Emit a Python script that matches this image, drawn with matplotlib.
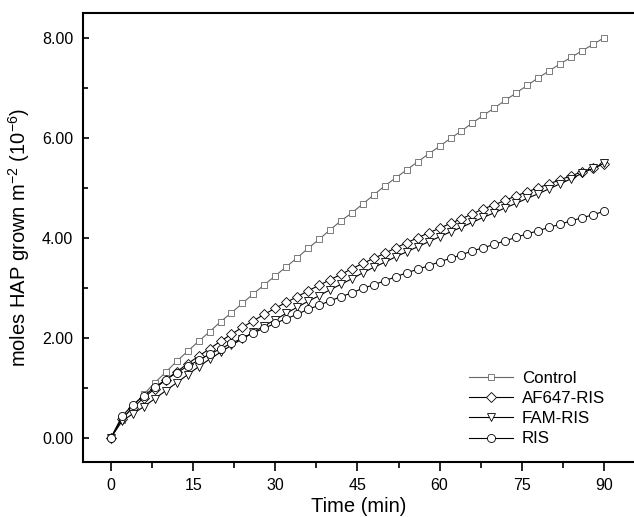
import matplotlib
matplotlib.use("Agg")
import matplotlib.pyplot as plt
from matplotlib.ticker import MultipleLocator, FormatStrFormatter
import numpy as np

plt.rcParams.update({
    "font.family": ["Liberation Sans", "DejaVu Sans"],
    "mathtext.fontset": "custom",
    "mathtext.rm": "Liberation Sans",
    "mathtext.it": "Liberation Sans:italic",
    "mathtext.default": "regular",
})

# time points (min), one sample every 2 min
time = list(range(0, 92, 2))

control = [0.00, 0.36, 0.63, 0.87, 1.10, 1.31, 1.53, 1.73, 1.93, 2.12, 2.32,
           2.50, 2.69, 2.88, 3.06, 3.24, 3.42, 3.60, 3.79, 3.97, 4.16, 4.34,
           4.50, 4.68, 4.86, 5.04, 5.20, 5.36, 5.52, 5.68, 5.83, 5.99, 6.14,
           6.30, 6.45, 6.60, 6.75, 6.90, 7.05, 7.20, 7.34, 7.48, 7.61, 7.74,
           7.87, 8.00]

af647_ris = [0.00, 0.38, 0.60, 0.80, 0.98, 1.16, 1.32, 1.48, 1.63, 1.78, 1.93,
             2.07, 2.21, 2.34, 2.47, 2.59, 2.71, 2.82, 2.94, 3.05, 3.16, 3.27,
             3.38, 3.49, 3.59, 3.69, 3.80, 3.90, 4.00, 4.10, 4.19, 4.29, 4.38,
             4.48, 4.58, 4.66, 4.75, 4.84, 4.92, 5.00, 5.08, 5.16, 5.24, 5.32,
             5.40, 5.47]

fam_ris = [0.00, 0.33, 0.48, 0.62, 0.78, 0.94, 1.10, 1.26, 1.42, 1.57, 1.71,
           1.85, 1.98, 2.11, 2.24, 2.36, 2.49, 2.61, 2.73, 2.84, 2.96, 3.07,
           3.18, 3.30, 3.41, 3.51, 3.62, 3.72, 3.82, 3.92, 4.02, 4.12, 4.21,
           4.31, 4.41, 4.50, 4.60, 4.69, 4.79, 4.88, 4.98, 5.08, 5.18, 5.29,
           5.39, 5.49]

ris = [0.00, 0.43, 0.66, 0.84, 1.01, 1.16, 1.30, 1.43, 1.55, 1.67, 1.78,
       1.89, 1.99, 2.10, 2.19, 2.29, 2.38, 2.47, 2.57, 2.65, 2.74, 2.82,
       2.90, 2.99, 3.06, 3.14, 3.22, 3.30, 3.37, 3.44, 3.52, 3.59, 3.66,
       3.74, 3.80, 3.87, 3.94, 4.01, 4.08, 4.14, 4.21, 4.27, 4.34, 4.40,
       4.46, 4.53]

series = [
    ("Control", control, "s", "0.4", 5.0),
    ("AF647-RIS", af647_ris, "D", "black", 5.2),
    ("FAM-RIS", fam_ris, "v", "black", 6.3),
    ("RIS", ris, "o", "black", 5.8),
]

fig = plt.figure(figsize=(6.34, 5.17), dpi=100)
ax = fig.add_axes([0.131, 0.107, 0.869, 0.868])

for name, vals, mk, col, ms in series:
    ax.plot(time, vals, color=col, linewidth=0.8, marker=mk, markersize=ms,
            markerfacecolor="white", markeredgecolor=col, markeredgewidth=0.6,
            label=name)

ax.set_xlim(-5.1, 95.5)
ax.set_ylim(-0.48, 8.5)
ax.xaxis.set_major_locator(MultipleLocator(15))
ax.xaxis.set_minor_locator(MultipleLocator(7.5))
ax.yaxis.set_major_locator(MultipleLocator(2))
ax.yaxis.set_minor_locator(MultipleLocator(1))
ax.yaxis.set_major_formatter(FormatStrFormatter("%.2f"))

# x ticks point out, y ticks point in
ax.tick_params(axis="x", which="major", direction="out", length=6.5, width=1.2,
               labelsize=11.5, pad=5, top=False)
ax.tick_params(axis="x", which="minor", direction="out", length=4.3, width=1.2,
               top=False)
ax.tick_params(axis="y", which="major", direction="in", length=4.5, width=1.2,
               labelsize=11.5, pad=7, right=False)
ax.tick_params(axis="y", which="minor", direction="in", length=3.5, width=1.2,
               right=False)
for s in ["left", "bottom", "top"]:
    ax.spines[s].set_linewidth(1.5)
ax.spines["right"].set_visible(False)

ax.set_xlabel("Time (min)", fontsize=14.5, labelpad=3)
ax.set_ylabel("moles HAP grown m$^{-2}$ (10$^{-6}$)", fontsize=14.5, labelpad=7)

ax.legend(loc="lower right", bbox_to_anchor=(0.975, 0.0), frameon=False,
          fontsize=12.2, handlelength=2.6, handletextpad=0.5, labelspacing=0.3)

fig.savefig("out.png", dpi=100)
